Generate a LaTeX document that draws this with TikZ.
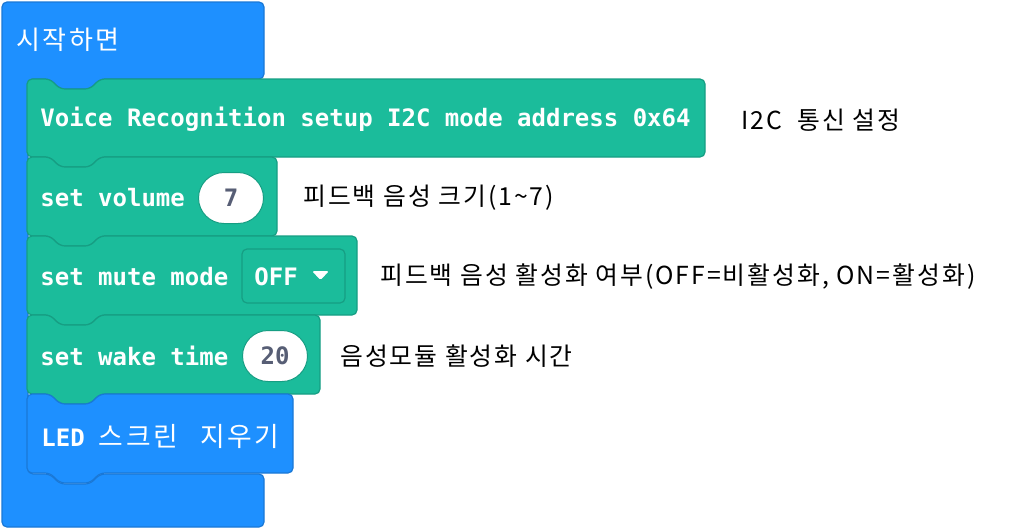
\documentclass[tikz,border=0pt]{standalone}
\usepackage{fontspec}
\usepackage{tikz}
\usetikzlibrary{positioning,shapes.misc}
\newfontfamily\codefont{DejaVu Sans Mono}
\newfontfamily\krfont[LetterSpace=8]{Noto Sans CJK KR}
\newfontfamily\krwide[LetterSpace=10]{Noto Sans CJK KR}
\definecolor{mbblue}{HTML}{1E90FF}
\definecolor{mbblueln}{HTML}{1A78D6}
\definecolor{vrgreen}{HTML}{1BBC9B}
\definecolor{vrgreenln}{HTML}{169E83}
\definecolor{numgray}{HTML}{575E75}
% stack block: top notch, bottom tab
\newcommand\stackblock[5]{%
  \draw[#1] (#2,#3) -- ++(23,0) -- ++(10,10) -- ++(30,0) -- ++(10,-10) -- (#4,#3)
    -- (#4,#5) -- (#2+73,#5) -- ++(-10,10) -- ++(-30,0) -- ++(-10,-10) -- (#2,#5) -- cycle;}

\begin{document}
\begin{tikzpicture}[x=0.5pt, y=-0.5pt,
  hat/.style={fill=mbblue, draw=mbblueln, line width=0.6pt, rounded corners=2.5pt},
  vrblk/.style={fill=vrgreen, draw=vrgreenln, line width=0.6pt, rounded corners=2.5pt},
  ledblk/.style={fill=mbblue, draw=mbblueln, line width=0.6pt, rounded corners=2.5pt},
  code/.style={inner sep=0pt, text=white, font=\codefont\bfseries\fontsize{12}{14}\selectfont},
  hdr/.style={inner sep=0pt, text=white, font=\krwide\fontsize{13}{15}\selectfont},
  oval/.style={rounded rectangle, fill=white, draw=vrgreenln, line width=0.5pt, minimum width=32.5pt, minimum height=25.5pt, inner sep=0pt, text=numgray, font=\codefont\bfseries\fontsize{12}{14}\selectfont},
  ddbox/.style={draw=vrgreenln, line width=0.6pt, fill=vrgreen, rounded corners=2.5pt, minimum width=51.5pt, minimum height=27pt, inner sep=0pt},
  note/.style={inner sep=0pt, text=black, font=\krfont\fontsize{12.4}{14}\selectfont}
]
\useasboundingbox (0,0) rectangle (1032,531);
% on start (C-shaped hat block)
\draw[hat] (2,2) -- (264,2) -- (264,79) -- (100,79) -- (90,89) -- (60,89) -- (50,79) -- (28,79)
  -- (28,474) -- (50,474) -- (60,484) -- (90,484) -- (100,474) -- (264,474) -- (264,527) -- (2,527) -- cycle;
\node[hdr, anchor=west] (onstart) at (16,40) {시작하면};
% stacked blocks (top to bottom)
\stackblock{vrblk}{27}{79}{705}{157}
\stackblock{vrblk}{27}{157}{277}{236}
\stackblock{vrblk}{27}{236}{357}{315}
\stackblock{vrblk}{27}{315}{320}{394}
\stackblock{ledblk}{27}{394}{293}{473}
% block texts
\node[code, anchor=west] (vrsetup) at (40,119) {Voice Recognition setup I2C mode address 0x64};
\node[code, anchor=west] (setvol) at (40,198) {set volume};
\node[oval] (volval) at (231,198) {7};
\node[code, anchor=west] (setmute) at (40,277) {set mute mode};
\node[ddbox] (mutebox) at (293.5,276) {};
\node[code, anchor=west] (muteval) at (254,277) {OFF};
\fill[white, rounded corners=0.8pt] (312,271) -- (329,271) -- (320.5,280) -- cycle;
\node[code, anchor=west] (setwake) at (40,356) {set wake time};
\node[oval] (wakeval) at (275,356) {20};
\node[code, anchor=west] (ledclr) at (41,436) {LED{\krwide\mdseries\fontsize{13.4}{15}\selectfont\hspace{7pt}스크린\hspace{11pt}지우기}};
% comments beside the blocks
\node[note, anchor=west] (cmtsetup) at (741,120) {I2C\hspace{4pt} 통신 설정};
\node[note, anchor=west] (cmtvol) at (303,198) {피드백 음성 크기(1\textasciitilde7)};
\node[note, anchor=west] (cmtmute) at (380,277) {피드백 음성 활성화 여부(OFF=비활성화, ON=활성화)};
\node[note, anchor=west] (cmtwake) at (340,356) {음성모듈 활성화 시간};
\end{tikzpicture}
\end{document}
